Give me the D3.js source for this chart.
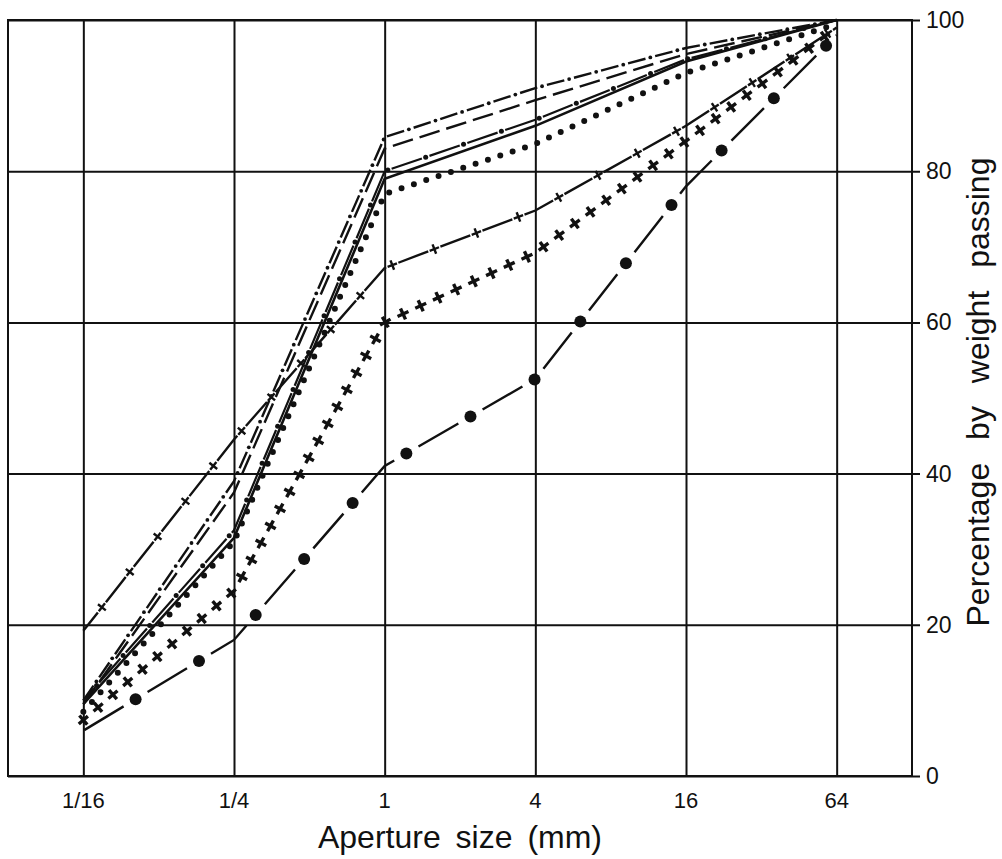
<!DOCTYPE html>
<html>
<head>
<meta charset="utf-8">
<script src="https://cdn.jsdelivr.net/npm/d3@7"></script>
<style>
  html, body { margin: 0; padding: 0; background: #fff; }
  svg { display: block; font-family: "Liberation Sans", Arial, Helvetica, sans-serif; }
</style>
</head>
<body>
<svg id="chart" width="1002" height="859"></svg>
<script>
// Tailles d'ouverture des tamis (mm) et pourcentages passants
const apertures = [1/16, 1/4, 1, 4, 16, 64];
const apertureLabels = ['1/16', '1/4', '1', '4', '16', '64'];
const percentTicks = [0, 20, 40, 60, 80, 100];

// Une courbe granulométrique par échantillon
const dashDotSample   = [10, 39, 84.5, 91, 96.3, 100];
const longDashSample  = [9.5, 37.5, 83, 89.4, 95.5, 100];
const solidSample     = [9.5, 31.5, 79, 86, 94.5, 100];
const dashDotsSample  = [10, 32.5, 80, 86.8, 94.8, 100];
const dottedSample    = [8.5, 31, 77, 83.6, 93, 99.5];
const dashPlusSample  = [19.2, 44.5, 67.2, 74.8, 86, 99];
const crossSample     = [7.4, 24.5, 60, 69.2, 84, 99];
const dashCircleSample = [6, 18, 41, 52.5, 78, 98];

const margin = { top: 20, right: 90, bottom: 83, left: 8 };
const width = 1002, height = 859;
const innerWidth = width - margin.left - margin.right;
const innerHeight = height - margin.top - margin.bottom;
const ink = '#111';

const svg = d3.select('#chart');
const g = svg.append('g').attr('transform', `translate(${margin.left},${margin.top})`);

// Échelles exprimées directement en coordonnées de la page
const x = d3.scaleLog().base(2).domain([1/32, 128]).range([margin.left, margin.left + innerWidth]);
const y = d3.scaleLinear().domain([0, 100]).range([margin.top + innerHeight, margin.top]);
const gx = d3.scaleLog().base(2).domain(x.domain()).range([0, innerWidth]);
const gy = d3.scaleLinear().domain(y.domain()).range([innerHeight, 0]);

// Grille verticale (axe du bas sans texte)
const xAxis = g.append('g')
  .attr('transform', `translate(0,${innerHeight})`)
  .call(d3.axisBottom(gx).tickValues(apertures).tickSize(-innerHeight).tickFormat(''));
xAxis.select('.domain').remove();
xAxis.selectAll('line').attr('stroke', ink).attr('stroke-width', 2);

// Grille horizontale + petites graduations à droite
const yAxis = g.append('g')
  .attr('transform', `translate(${innerWidth},0)`)
  .call(d3.axisRight(gy).tickValues(percentTicks).tickSizeInner(8).tickSizeOuter(0).tickFormat(''));
yAxis.select('.domain').remove();
yAxis.selectAll('line').attr('x1', -innerWidth).attr('stroke', ink).attr('stroke-width', 2);

// Étiquettes des axes
svg.append('g')
  .selectAll('text')
  .data(apertures)
  .join('text')
  .attr('x', d => x(d))
  .attr('y', margin.top + innerHeight + 32)
  .attr('text-anchor', 'middle')
  .attr('font-size', 22)
  .attr('fill', ink)
  .text((d, i) => apertureLabels[i]);

svg.append('g')
  .selectAll('text')
  .data(percentTicks)
  .join('text')
  .attr('x', margin.left + innerWidth + 14)
  .attr('y', d => y(d) + 8)
  .attr('font-size', 23)
  .attr('fill', ink)
  .text(d => d);

// Cadre
g.append('rect')
  .attr('width', innerWidth)
  .attr('height', innerHeight)
  .attr('fill', 'none')
  .attr('stroke', ink)
  .attr('stroke-width', 2);

// Titres d'axe
svg.append('text')
  .attr('x', 460)
  .attr('y', 848)
  .attr('text-anchor', 'middle')
  .attr('fill', ink)
  .attr('font-size', 32)
  .style('word-spacing', '6px')
  .text('Aperture size (mm)');

svg.append('text')
  .attr('x', 989)
  .attr('y', 392)
  .attr('transform', 'rotate(-90, 989, 392)')
  .attr('text-anchor', 'middle')
  .attr('fill', ink)
  .attr('font-size', 32)
  .style('word-spacing', '14px')
  .text('Percentage by weight passing');

const line = d3.line()
  .x((d, i) => gx(apertures[i]))
  .y(d => gy(d));

// Points répartis le long d'une courbe
function alongPath(path, first, step) {
  const node = path.node();
  const total = node.getTotalLength();
  const pts = [];
  for (let l = first; l <= total + 0.5; l += step) {
    const p = node.getPointAtLength(Math.min(l, total));
    const a = node.getPointAtLength(Math.max(0, l - 1));
    const b = node.getPointAtLength(Math.min(total, l + 1));
    pts.push({ x: p.x, y: p.y, angle: Math.atan2(b.y - a.y, b.x - a.x) * 180 / Math.PI });
  }
  return pts;
}

// Trait pointillé avec un marqueur centré dans chaque espace
function dashedWithMarkers(values, dash, gap, first, drawMarker, strokeWidth) {
  const period = dash + gap;
  const offset = ((dash - (first - gap / 2)) % period + period) % period;
  const path = g.append('path')
    .datum(values)
    .attr('d', line)
    .attr('fill', 'none')
    .attr('stroke', ink)
    .attr('stroke-width', strokeWidth)
    .attr('stroke-dasharray', `${dash},${gap}`)
    .attr('stroke-dashoffset', offset);
  const pts = alongPath(path, first, period);
  drawMarker(g.append('g'), pts);
}

function dots(r) {
  return (sel, pts) => sel.selectAll('circle').data(pts).join('circle')
    .attr('cx', d => d.x).attr('cy', d => d.y).attr('r', r).attr('fill', ink);
}

function pluses(half, sw) {
  return (sel, pts) => sel.selectAll('path').data(pts).join('path')
    .attr('d', `M${-half},0H${half}M0,${-half}V${half}`)
    .attr('transform', d => `translate(${d.x},${d.y}) rotate(${d.angle})`)
    .attr('stroke', ink)
    .attr('stroke-width', sw)
    .attr('fill', 'none');
}

// Tirets + petits points
dashedWithMarkers(dashDotSample, 18, 10, 23, dots(1.9), 2.4);

// Tirets longs
g.append('path')
  .datum(longDashSample)
  .attr('d', line)
  .attr('fill', 'none')
  .attr('stroke', ink)
  .attr('stroke-width', 2.4)
  .attr('stroke-dasharray', '21,7');

// Trait plein
g.append('path')
  .datum(solidSample)
  .attr('d', line)
  .attr('fill', 'none')
  .attr('stroke', ink)
  .attr('stroke-width', 2.6);

// Trait + points
dashedWithMarkers(dashDotsSample, 32, 8, 20, dots(2.5), 2.2);

// Gros points
g.append('path')
  .datum(dottedSample)
  .attr('d', line)
  .attr('fill', 'none')
  .attr('stroke', ink)
  .attr('stroke-width', 6)
  .attr('stroke-linecap', 'round')
  .attr('stroke-dasharray', '0,13');

// Tirets + petites croix
dashedWithMarkers(dashPlusSample, 32, 13, 30, pluses(5, 2.4), 2.4);

// Grosses croix seules
const crossPath = g.append('path')
  .datum(crossSample)
  .attr('d', line)
  .attr('fill', 'none')
  .attr('stroke', 'none');
pluses(6, 3.4)(g.append('g'), alongPath(crossPath, 0, 19.5));

// Tirets + gros ronds
dashedWithMarkers(dashCircleSample, 46, 28, 61, dots(6), 2.4);
</script>
</body>
</html>
